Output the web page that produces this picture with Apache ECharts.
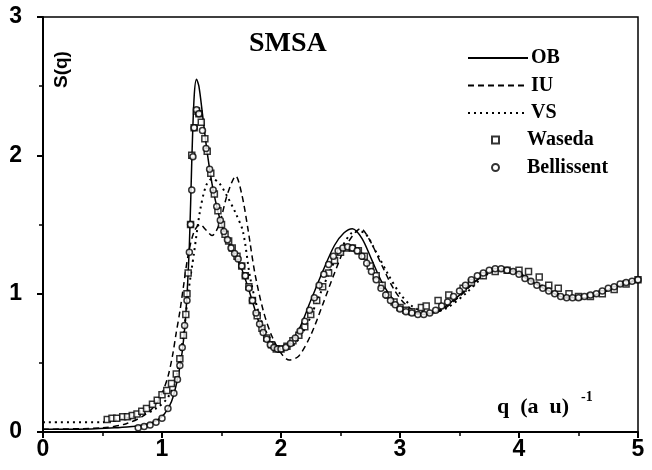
<!DOCTYPE html>
<html><head><meta charset="utf-8">
<script src="https://cdn.jsdelivr.net/npm/echarts@6/dist/echarts.min.js"></script>
<style>html,body{margin:0;padding:0;background:#fff}#c{width:652px;height:470px}</style>
</head><body><div id="c"></div>
<script>
// ---- data ----
const xTicks = [0, 1, 2, 3, 4, 5];
const yTicks = [0, 1, 2, 3];

const obQ = [0,0.3,0.6,0.75,0.85,0.95,1.02,1.08,1.13,1.17,1.2,1.23,1.25,1.27,1.29,1.31,1.34,1.38,1.43,1.5,1.58,1.66,1.74,1.82,1.9,1.97,2.05,2.15,2.25,2.35,2.45,2.53,2.6,2.68,2.76,2.85,2.95,3.05,3.2,3.35,3.5,3.65,3.8,3.95,4.1,4.25,4.4,4.55,4.7,4.85,5.0];
const obS = [0.02,0.02,0.03,0.04,0.05,0.08,0.13,0.22,0.38,0.58,0.85,1.35,1.95,2.42,2.55,2.5,2.3,2.02,1.75,1.5,1.33,1.2,1.0,0.78,0.64,0.59,0.62,0.74,0.95,1.16,1.35,1.44,1.47,1.4,1.25,1.08,0.95,0.88,0.85,0.89,0.99,1.1,1.17,1.16,1.09,1.02,0.97,0.97,1.01,1.06,1.1];

const iuQ = [0,0.5,0.7,0.85,0.95,1.0,1.05,1.09,1.12,1.15,1.18,1.22,1.27,1.32,1.37,1.42,1.48,1.55,1.62,1.67,1.72,1.78,1.85,1.92,2.0,2.07,2.15,2.25,2.35,2.45,2.55,2.67,2.75,2.85,2.95,3.05,3.2,3.35,3.5,3.65,3.8,3.95,4.1,4.25,4.4,4.55,4.7,4.85,5.0];
const iuS = [0.02,0.03,0.06,0.12,0.2,0.28,0.4,0.56,0.72,0.87,1.05,1.28,1.45,1.5,1.46,1.42,1.5,1.72,1.85,1.72,1.48,1.15,0.88,0.7,0.57,0.52,0.55,0.7,0.92,1.15,1.35,1.47,1.38,1.2,1.03,0.92,0.85,0.88,0.98,1.1,1.18,1.17,1.1,1.02,0.97,0.97,1.01,1.06,1.1];

const vsQ = [0,0.5,0.55,0.7,0.85,0.95,1.05,1.12,1.18,1.22,1.27,1.32,1.37,1.42,1.48,1.55,1.62,1.68,1.74,1.8,1.86,1.95,2.03,2.12,2.22,2.32,2.42,2.52,2.62,2.7,2.8,2.9,3.0,3.1,3.25,3.4,3.55,3.7,3.85,4.0,4.15,4.3,4.45,4.6,4.75,4.9,5.0];
const vsS = [0.07,0.07,0.08,0.1,0.13,0.17,0.25,0.4,0.7,1.0,1.3,1.6,1.78,1.83,1.8,1.7,1.58,1.45,1.12,0.9,0.75,0.63,0.6,0.64,0.78,0.98,1.18,1.35,1.45,1.44,1.3,1.14,1.0,0.91,0.86,0.9,1.0,1.12,1.18,1.15,1.08,1.01,0.97,0.98,1.03,1.08,1.1];

const wasQ = [0.54,0.58,0.62,0.67,0.71,0.75,0.79,0.83,0.87,0.92,0.96,1.0,1.04,1.08,1.12,1.15,1.18,1.2,1.21,1.22,1.24,1.25,1.27,1.29,1.31,1.33,1.36,1.38,1.41,1.44,1.47,1.5,1.53,1.56,1.59,1.63,1.67,1.7,1.73,1.76,1.8,1.84,1.88,1.92,1.96,2.0,2.05,2.1,2.15,2.2,2.25,2.3,2.35,2.4,2.45,2.5,2.55,2.6,2.65,2.7,2.75,2.8,2.85,2.9,2.95,3.0,3.05,3.1,3.18,3.22,3.32,3.41,3.53,3.6,3.7,3.8,3.9,4.0,4.08,4.17,4.25,4.33,4.42,4.5,4.6,4.7,4.8,4.9,5.0];
const wasS = [0.09,0.1,0.1,0.11,0.11,0.12,0.13,0.15,0.17,0.2,0.23,0.27,0.3,0.35,0.42,0.53,0.7,0.85,1.0,1.15,1.5,2.0,2.2,2.32,2.3,2.24,2.12,2.03,1.87,1.72,1.6,1.5,1.43,1.38,1.33,1.27,1.2,1.13,1.05,0.95,0.84,0.75,0.68,0.63,0.6,0.6,0.62,0.66,0.7,0.76,0.85,0.95,1.05,1.15,1.24,1.3,1.33,1.33,1.31,1.27,1.2,1.13,1.06,0.99,0.94,0.9,0.88,0.87,0.9,0.91,0.95,0.99,1.04,1.08,1.13,1.16,1.17,1.17,1.16,1.12,1.06,1.04,1.0,0.98,0.98,1.0,1.03,1.07,1.1];

const belQ = [0.8,0.85,0.9,0.95,1.0,1.05,1.1,1.13,1.15,1.17,1.19,1.21,1.23,1.24,1.25,1.26,1.27,1.29,1.31,1.34,1.37,1.4,1.43,1.46,1.49,1.52,1.55,1.58,1.61,1.64,1.67,1.7,1.73,1.76,1.79,1.82,1.85,1.88,1.91,1.94,1.97,2.0,2.04,2.08,2.12,2.16,2.2,2.24,2.28,2.32,2.36,2.4,2.44,2.48,2.52,2.56,2.6,2.64,2.68,2.72,2.76,2.8,2.84,2.88,2.92,2.96,3.0,3.05,3.1,3.15,3.2,3.25,3.3,3.35,3.4,3.45,3.5,3.55,3.6,3.65,3.7,3.75,3.8,3.85,3.9,3.95,4.0,4.05,4.1,4.15,4.2,4.25,4.3,4.35,4.4,4.45,4.5,4.55,4.6,4.65,4.7,4.75,4.8,4.85,4.9,4.95,5.0];
const belS = [0.03,0.04,0.05,0.07,0.1,0.17,0.28,0.38,0.48,0.61,0.77,0.95,1.3,1.5,1.75,1.99,2.2,2.33,2.3,2.18,2.05,1.9,1.75,1.63,1.53,1.45,1.39,1.33,1.29,1.25,1.2,1.13,1.04,0.95,0.86,0.78,0.72,0.67,0.63,0.61,0.6,0.6,0.61,0.64,0.68,0.73,0.8,0.88,0.97,1.06,1.14,1.21,1.27,1.31,1.33,1.34,1.33,1.31,1.27,1.22,1.16,1.1,1.04,0.99,0.95,0.92,0.89,0.87,0.86,0.85,0.85,0.86,0.88,0.91,0.94,0.98,1.02,1.06,1.1,1.13,1.15,1.17,1.18,1.18,1.17,1.16,1.14,1.11,1.09,1.06,1.04,1.02,1.0,0.98,0.97,0.97,0.97,0.98,0.99,1.0,1.02,1.04,1.05,1.07,1.08,1.09,1.1];

const lineNames = ['OB', 'IU', 'VS'];
const markNames = ['Waseda', 'Bellissent'];

function zip(a, b) { return a.map((v, i) => [v, b[i]]); }

const serif = 'Liberation Serif';
const sans = 'Liberation Sans';
const legendText = {color: '#000', fontFamily: serif, fontWeight: 'bold', fontSize: 20, lineHeight: 20};

const chart = echarts.init(document.getElementById('c'), null, {renderer: 'canvas'});
chart.setOption({
  animation: false,
  backgroundColor: '#fff',
  grid: {left: 43, right: 14, top: 17, bottom: 38, show: true, borderColor: '#000', borderWidth: 1.5, backgroundColor: 'transparent'},
  xAxis: {
    type: 'value', min: xTicks[0], max: xTicks[xTicks.length - 1], interval: 1,
    axisLine: {show: true, lineStyle: {color: '#000', width: 2}},
    axisTick: {show: true, length: 6, lineStyle: {color: '#000', width: 2}},
    minorTick: {show: true, splitNumber: 2, length: 4, lineStyle: {color: '#000', width: 1.5}},
    splitLine: {show: false},
    axisLabel: {color: '#000', fontFamily: sans, fontWeight: 'bold', fontSize: 23, margin: 6}
  },
  yAxis: {
    type: 'value', min: yTicks[0], max: yTicks[yTicks.length - 1], interval: 1,
    axisLine: {show: true, lineStyle: {color: '#000', width: 2}},
    axisTick: {show: true, length: 6, lineStyle: {color: '#000', width: 2}},
    minorTick: {show: true, splitNumber: 2, length: 4, lineStyle: {color: '#000', width: 1.5}},
    splitLine: {show: false},
    axisLabel: {color: '#000', fontFamily: sans, fontWeight: 'bold', fontSize: 23, margin: 21}
  },
  legend: [
    {
      show: true, orient: 'vertical', left: 462, top: 43, itemWidth: 60, itemHeight: 12, itemGap: 7.5,
      data: lineNames.map(n => ({name: n, itemStyle: {opacity: 0}})),
      textStyle: Object.assign({padding: [0, 0, 0, -2]}, legendText),
      inactiveColor: '#000', selectedMode: false
    },
    {
      show: true, orient: 'vertical', left: 486, top: 125, itemWidth: 7, itemHeight: 7, itemGap: 7.5,
      data: markNames,
      textStyle: Object.assign({padding: [0, 0, 0, 23]}, legendText),
      inactiveColor: '#000', selectedMode: false
    }
  ],
  graphic: [
    {type: 'text', left: 249, top: 30, style: {text: 'SMSA', font: 'bold 28px "Liberation Serif"', fill: '#000'}},
    {type: 'text', x: 52, y: 88, rotation: Math.PI / 2, style: {text: 'S(q)', font: 'bold 19px "Liberation Sans"', fill: '#000'}},
    {type: 'text', left: 497, top: 396, style: {text: 'q  (a  u)', font: 'bold 22px "Liberation Serif"', fill: '#000'}},
    {type: 'text', left: 581, top: 390, style: {text: '-1', font: 'bold 14px "Liberation Serif"', fill: '#000'}}
  ],
  series: [
    {name: 'OB', type: 'line', data: zip(obQ, obS), showSymbol: false, symbol: 'none', smooth: 0.3, z: 5,
     lineStyle: {color: '#000', width: 1.5, type: 'solid'}, itemStyle: {color: '#000'}},
    {name: 'IU', type: 'line', data: zip(iuQ, iuS), showSymbol: false, symbol: 'none', smooth: 0.3, z: 4,
     lineStyle: {color: '#000', width: 1.5, type: [6, 4]}, itemStyle: {color: '#000'}},
    {name: 'VS', type: 'line', data: zip(vsQ, vsS), showSymbol: false, symbol: 'none', smooth: 0.3, z: 4,
     lineStyle: {color: '#000', width: 2, type: [2, 4]}, itemStyle: {color: '#000'}},
    {name: 'Waseda', type: 'scatter', data: zip(wasQ, wasS), symbol: 'rect', symbolSize: 6, z: 6,
     itemStyle: {color: '#fff', borderColor: '#000', borderWidth: 1.5}},
    {name: 'Bellissent', type: 'scatter', data: zip(belQ, belS), symbol: 'circle', symbolSize: 6, z: 6,
     itemStyle: {color: '#fff', borderColor: '#000', borderWidth: 1.5}}
  ]
});
</script>
</body></html>
